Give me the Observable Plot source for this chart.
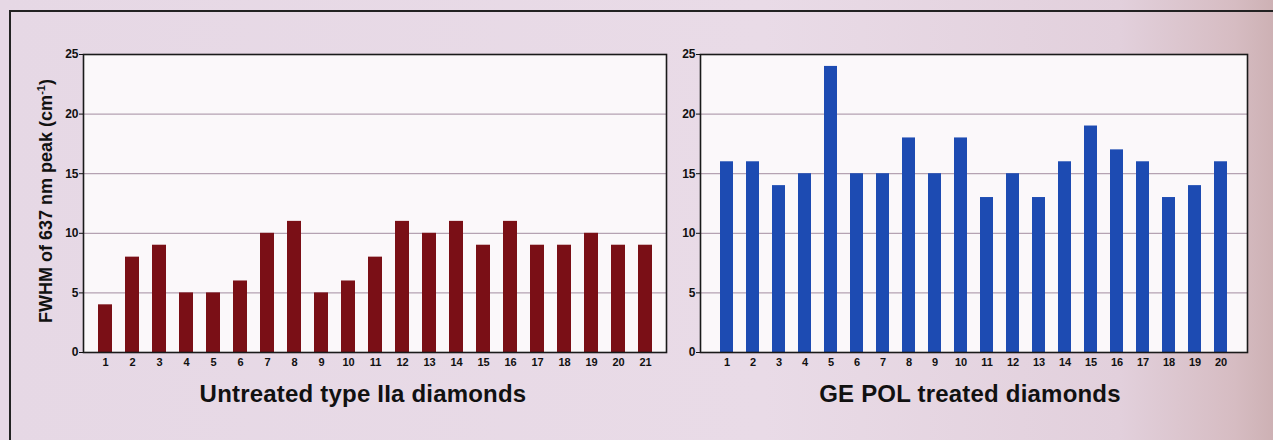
<!DOCTYPE html>
<html>
<head>
<meta charset="utf-8">
<script src="https://cdn.jsdelivr.net/npm/d3@7"></script>
<script src="https://cdn.jsdelivr.net/npm/@observablehq/plot@0.6"></script>
<style>
  html, body { margin: 0; padding: 0; }
  body { width: 1273px; height: 440px; overflow: hidden; }
  #page {
    position: relative; width: 1273px; height: 440px;
    background: linear-gradient(90deg, #e6d8e5 0%, #e9dbe7 60%, #e2d0dc 88%, #d6bcc2 97%, #cdb1b4 100%);
    font-family: "Liberation Sans", Arial, sans-serif;
  }
  #frame { position: absolute; left: 9px; top: 10px; width: 1300px; height: 440px;
    border-left: 2px solid #222; border-top: 2px solid #222; }
  .panel { position: absolute; top: 0; }
  .title { position: absolute; top: 380px; font-weight: bold; font-size: 24px; color: #111;
    white-space: nowrap; transform: translateX(-50%); letter-spacing: 0.2px; }
  .ylab { position: absolute; left: 46px; top: 201px; transform: translate(-50%, -50%) rotate(-90deg);
    font-weight: bold; font-size: 18px; color: #111; white-space: nowrap; }
</style>
</head>
<body>
<div id="page">
  <div id="frame"></div>
  <div id="left" class="panel" style="left:0px"></div>
  <div id="right" class="panel" style="left:617px"></div>
  <div class="ylab">FWHM of 637 nm peak (cm<sup style="font-size:11px">-1</sup>)</div>
  <div class="title" style="left:363px">Untreated type IIa diamonds</div>
  <div class="title" style="left:970px">GE POL treated diamonds</div>
</div>
<script>
const untreatedIds = d3.range(1, 22);
const untreatedFWHM = [4, 8, 9, 5, 5, 6, 10, 11, 5, 6, 8, 11, 10, 11, 9, 11, 9, 9, 10, 9, 9];
const treatedIds = d3.range(1, 21);
const treatedFWHM = [16, 16, 14, 15, 24, 15, 15, 18, 15, 18, 13, 15, 13, 16, 19, 17, 16, 13, 14, 16];
const yTicks = [0, 5, 10, 15, 20, 25];

function panel(ids, vals, color, width, mLeft, mRight) {
  const data = ids.map((id, i) => ({id: String(id), v: vals[i]}));
  return Plot.plot({
    width, height: 380,
    marginLeft: mLeft, marginRight: mRight, marginTop: 54, marginBottom: 28,
    style: {background: "transparent", fontFamily: "'Liberation Sans', Arial, sans-serif", fontWeight: "bold", color: "#111"},
    x: {domain: ids.map(String), paddingInner: 0.5, paddingOuter: 0.42, label: null, tickSize: 0, tickPadding: 4},
    y: {domain: [0, 25], ticks: yTicks, label: null, tickSize: 4, tickPadding: 2},
    marks: [
      Plot.frame({fill: "#fbf8fa", stroke: "none"}),
      Plot.gridY(yTicks.filter(t => t > 0 && t < 25), {stroke: "#b5a2b2", strokeOpacity: 1, strokeWidth: 1.3}),
      Plot.barY(data, {x: "id", y: "v", fill: color}),
      Plot.frame({stroke: "#1a1a1a", strokeWidth: 1.6}),
      Plot.axisX({fontSize: 11, tickSize: 0, tickPadding: 6}),
      Plot.axisY({ticks: yTicks, fontSize: 12, tickSize: 4, tickPadding: 1})
    ]
  });
}

document.getElementById("left").append(panel(untreatedIds, untreatedFWHM, "#7a0f16", 680, 83, 14));
document.getElementById("right").append(panel(treatedIds, treatedFWHM, "#1d4bb2", 656, 83, 26));
</script>
</body>
</html>
